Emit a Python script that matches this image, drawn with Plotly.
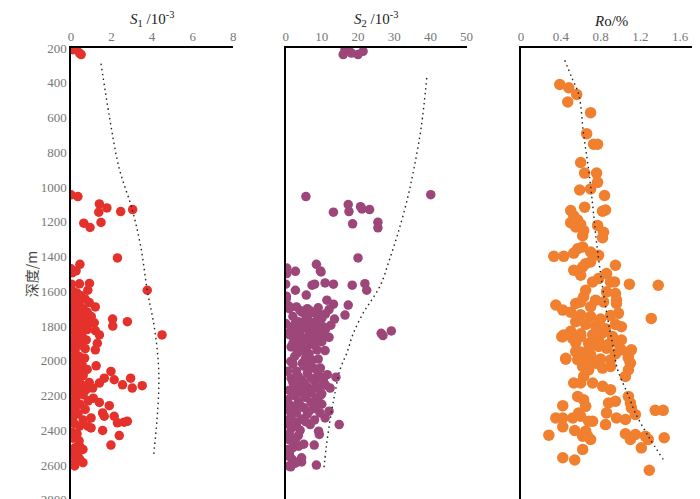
import plotly.graph_objects as go

# S1 (x, depth)
s1_val = [0.1, 0.26, 0.42, 0.5,
          0.0, 0.34, 1.4, 1.77, 1.37, 2.45, 3.04, 0.63, 0.94, 1.48, 2.29, 3.76, 4.49, 0.44, 0.0, 0.05, 0.25,
          0.02, 0.42, 0.91, 0.83,
          0.1, 0.3, 0.05, 0.5, 0.2, 0.7, 0.4, 0.05, 0.9, 0.3, 0.6, 1.2, 0.1, 0.8, 0.45, 0.2, 1.0, 0.65, 0.05,
          0.35, 0.9, 1.15, 0.15, 0.6, 0.4, 0.0, 0.8, 0.25, 0.55, 0.1, 1.4, 0.75, 0.3, 1.3, 0.5, 0.05, 0.2,
          1.2, 0.7, 2.05, 2.06, 2.78, 1.2,
          0.1, 0.4, 0.67, 0.05, 0.3, 0.55, 1.24, 0.15, 0.8, 0.45, 1.97, 0.1, 0.6, 2.94, 1.64, 0.3, 2.13, 0.05,
          0.9, 1.4, 0.5, 2.54, 3.51, 0.2, 1.07, 3.02, 0.75, 0.4, 0.05, 0.6, 0.25, 1.1, 0.85, 0.1, 1.4, 0.45,
          1.89, 0.2, 0.7, 0.05, 1.56, 0.35, 0.99, 1.64, 2.13, 0.1, 0.6, 2.62, 2.78, 2.29, 0.83, 0.42, 0.99,
          0.15, 1.56, 0.05, 0.3, 2.38, 0.1, 0.4, 1.97, 0.42, 0.2, 0.59, 0.05, 0.3, 0.34, 0.0, 0.59, 0.18, 0.45,
          0.1]
s1_dep = [210, 200, 229, 238,
          1045, 1055, 1097, 1120, 1145, 1141, 1130, 1208, 1233, 1204, 1408, 1594, 1851, 1445, 1471, 1494, 1483,
          1559, 1557, 1555, 1594,
          1600, 1610, 1630, 1625, 1650, 1645, 1670, 1680, 1665, 1695, 1700, 1690, 1715, 1720, 1735, 1750, 1745,
          1760, 1770, 1780, 1785, 1781, 1800, 1805, 1825, 1830, 1820, 1845, 1860, 1870, 1851, 1880, 1890, 1899,
          1910, 1920, 1940, 1937, 1930, 1760, 1800, 1775, 1826,
          1960, 1975, 1985, 2000, 2010, 2025, 2029, 2040, 2050, 2060, 2061, 2080, 2085, 2100, 2100, 2105, 2109,
          2120, 2125, 2128, 2135, 2138, 2143, 2150, 2157, 2157, 2166, 2175, 2185, 2195, 2210, 2215, 2230, 2235,
          2240, 2250, 2258, 2270, 2280, 2290, 2300, 2305, 2329, 2319, 2319, 2325, 2340, 2353, 2348, 2357, 2376,
          2376, 2386, 2360, 2401, 2410, 2420, 2430, 2445, 2460, 2485, 2491, 2500, 2510, 2525, 2540, 2548, 2571,
          2586, 2605, 2570, 2590]
s1_trend_val = [1.48, 1.9, 2.37, 3.02, 3.45, 3.76, 4.1, 4.3, 4.33, 4.24, 4.08]
s1_trend_dep = [290, 600, 890, 1130, 1350, 1594, 1800, 2000, 2150, 2340, 2540]

# S2 (x, depth)
s2_val = [15.9, 17.3, 18.2, 20.0, 21.4, 16.4,
          5.6, 40.1, 13.2, 17.3, 17.5, 20.7, 21.1, 23.2, 18.5, 25.5, 25.5, 20.0, 0.3, 0.3, 2.7, 8.5, 9.6, 9.8,
          0.0, 7.3, 8.0, 10.9, 13.2, 18.4, 21.9, 22.4, 2.7, 0.2, 0.2, 5.7, 0.9, 17.3, 11.4, 13.2, 16.4, 26.4,
          26.9, 29.2, 0.0, 0.0, 10.9, 1.4, 3.2,
          3.2, 3.2, 5.9, 8.7, 1.8, 4.6, 7.3, 7.7, 9.6, 6.4, 13.9, 0.5, 0.0, 12.0, 10.9, 14.8, 6.8, 9.1, 9.3,
          0.0, 0.9, 2.7, 3.6, 7.9, 0.5, 0.0, 1.8, 0.9, 4.4, 4.4, 8.5, 1.4,
          3, 6, 9, 12, 4.5, 8, 11, 2, 6, 10, 13.5, 3.5, 7, 9.5, 12.5, 1.5, 5, 8, 11, 3, 6.5, 9.5, 2, 5, 8, 12,
          3.5, 6.5, 10, 1.5, 4.5, 2.5, 5.5, 9, 3, 6, 9, 11.5, 1.5, 4.5, 8, 10.5, 2.5, 6, 9, 12.3, 1, 4, 7, 10,
          2.5, 5.5, 8.5, 3.5, 7, 10, 2, 5, 8, 3, 6, 1.5, 4.5, 8, 0.5, 3, 1.5, 4, 2, 5, 1, 3,
          1, 4, 7, 10, 5.5, 8.5, 2.5, 6, 10.5, 4, 7.5, 1, 4, 10.5, 7, 2, 5, 8, 3.5, 6.5, 2, 5, 8.5, 0.5, 3.5,
          7, 10, 2, 5, 11, 3.5, 7.5, 2, 5, 9.5, 1, 4, 8.5, 2, 6.5, 9.5, 0.5, 3, 5.5, 1, 3.5, 2, 1, 2.5]
s2_dep = [238, 200, 229, 238, 219, 210,
          1055, 1044, 1145, 1101, 1141, 1113, 1126, 1130, 1212, 1202, 1235, 1408, 1466, 1498, 1485, 1445, 1483,
          1489, 1559, 1565, 1559, 1552, 1559, 1565, 1556, 1594, 1594, 1628, 1641, 1622, 1685, 1679, 1651, 1674,
          1737, 1842, 1855, 1828, 1785, 1842, 1941, 2004, 1937,
          1909, 1956, 1918, 1937, 2004, 2014, 1995, 2042, 2042, 2033, 2094, 2224, 2281, 2290, 2329, 2367, 2367,
          2405, 2424, 2434, 2453, 2453, 2491, 2485, 2510, 2548, 2567, 2605, 2558, 2582, 2600, 2610,
          1690, 1700, 1695, 1705, 1720, 1725, 1730, 1745, 1750, 1755, 1760, 1775, 1780, 1790, 1795, 1805, 1810,
          1815, 1820, 1835, 1840, 1845, 1860, 1870, 1875, 1865, 1890, 1895, 1890, 1920, 1940, 1975, 1985, 1990,
          2060, 2070, 2075, 2080, 2100, 2110, 2115, 2120, 2140, 2150, 2155, 2157, 2170, 2180, 2185, 2190, 2200,
          2210, 2215, 2235, 2240, 2250, 2265, 2270, 2275, 2300, 2305, 2320, 2335, 2340, 2360, 2375, 2390, 2400,
          2470, 2480, 2530, 2585,
          1700, 1710, 1715, 1740, 1765, 1770, 1790, 1795, 1805, 1825, 1830, 1850, 1855, 1860, 1880, 1900, 1905,
          1910, 1925, 1960, 2020, 2030, 2050, 2060, 2090, 2100, 2100, 2125, 2130, 2140, 2160, 2165, 2190, 2195,
          2200, 2250, 2255, 2260, 2290, 2290, 2300, 2345, 2355, 2350, 2420, 2430, 2500, 2540, 2590]
s2_trend_val = [39.0, 37.5, 35.5, 33.5, 31.0, 28.5, 26.4, 23.8, 21.9, 18.7, 17.0, 15.0, 13.5, 12.3, 11.2, 10.5]
s2_trend_dep = [372, 650, 890, 1080, 1269, 1430, 1556, 1650, 1708, 1842, 1950, 2052, 2200, 2338, 2500, 2634]

# Ro (x, depth)
ro_val = [0.39, 0.48, 0.56, 0.47, 0.70, 0.66, 0.73, 0.77, 0.60, 0.64, 0.76,
          0.77, 0.70, 0.59, 0.84, 0.64, 0.85, 0.82, 0.50, 0.53, 0.57, 0.60, 0.63, 0.50, 0.55, 0.62, 0.77, 0.83,
          0.82, 0.57, 0.62, 0.53, 0.33, 0.43, 0.70, 0.78, 0.95, 0.65, 0.70, 0.62, 0.53, 0.60, 0.86, 0.72, 0.78,
          0.90, 0.94, 1.09, 1.38, 0.65, 0.63, 0.86, 0.95, 0.96, 0.35, 0.42, 0.55, 0.60, 0.70, 0.75, 0.83, 0.96,
          0.98, 1.31, 0.43, 0.41, 0.45, 1.01, 1.01, 1.11, 1.08,
          0.5, 0.6, 0.7, 0.8, 0.9, 0.55, 0.65, 0.75, 0.85, 0.95, 0.5, 0.6, 0.72, 0.82, 0.92, 0.55, 0.68, 0.78,
          0.88, 0.98, 0.6, 0.7, 0.95, 0.65, 0.8, 0.9,
          0.42, 0.52, 0.60, 0.45, 0.55, 0.57, 0.68, 0.78, 0.86, 0.62, 0.68, 0.63, 0.75, 0.82, 0.90, 1.01, 1.08,
          1.10, 1.08, 1.05, 0.53, 0.60, 0.72, 0.82, 0.90, 0.57, 0.63, 0.42, 0.88, 0.95, 1.08, 1.10, 1.11, 1.15,
          0.86, 0.96, 1.05, 0.85, 1.35, 1.43, 0.35, 0.42, 0.52, 0.60, 0.68, 0.72, 0.58, 0.65, 0.42, 0.28, 0.54,
          0.65, 0.67, 0.70, 0.62, 1.05, 1.15, 1.25, 1.28, 1.10, 1.21, 1.44, 0.62, 0.42, 0.54, 1.29]
ro_dep = [410, 429, 467, 511, 572, 693, 754, 754, 859, 920, 920,
          973, 1011, 1017, 1049, 1116, 1132, 1139, 1135, 1165, 1190, 1215, 1250, 1205, 1230, 1280, 1221, 1260,
          1292, 1355, 1345, 1380, 1399, 1399, 1374, 1393, 1450, 1441, 1431, 1460, 1479, 1508, 1498, 1546, 1527,
          1546, 1546, 1559, 1565, 1594, 1632, 1603, 1613, 1651, 1679, 1708, 1670, 1661, 1689, 1651, 1661, 1670,
          1727, 1756, 1851, 1861, 1985, 1804, 1880, 1937, 1985,
          1720, 1735, 1745, 1760, 1740, 1775, 1790, 1800, 1815, 1790, 1830, 1845, 1850, 1840, 1860, 1895, 1900,
          1885, 1905, 1900, 1950, 1965, 1960, 2000, 1990, 1995,
          1861, 1871, 1861, 1991, 1947, 1994, 1937, 1918, 1928, 2033, 2052, 2090, 2014, 2042, 2033, 1937, 1975,
          2014, 2052, 2090, 2128, 2128, 2128, 2147, 2166, 2205, 2224, 2258, 2243, 2233, 2205, 2243, 2271, 2309,
          2300, 2329, 2338, 2367, 2285, 2285, 2329, 2329, 2329, 2319, 2348, 2348, 2300, 2262, 2380, 2428, 2401,
          2405, 2434, 2453, 2434, 2420, 2424, 2434, 2453, 2453, 2501, 2443, 2510, 2558, 2571, 2630]
ro_trend_val = [0.44, 0.51, 0.58, 0.63, 0.68, 0.72, 0.75, 0.80, 0.88, 0.92, 0.97, 1.01, 1.08, 1.15, 1.28, 1.43]
ro_trend_dep = [270, 370, 467, 700, 900, 1100, 1269, 1498, 1785, 1900, 2050, 2109, 2200, 2300, 2434, 2567]

depth_ticks = [200, 400, 600, 800, 1000, 1200, 1400, 1600, 1800, 2000, 2200, 2400, 2600, 2800]

serif = "Liberation Serif"
grey = "#777777"

fig = go.Figure()

panels = [
    (s1_val, s1_dep, s1_trend_val, s1_trend_dep, "#e5312b", 9.5, "x", "y"),
    (s2_val, s2_dep, s2_trend_val, s2_trend_dep, "#9c4679", 9.5, "x2", "y2"),
    (ro_val, ro_dep, ro_trend_val, ro_trend_dep, "#f0802f", 11.5, "x3", "y3"),
]
for xv, dv, tx, td, col, sz, xa, ya in panels:
    fig.add_trace(go.Scatter(x=xv, y=dv, mode="markers", xaxis=xa, yaxis=ya,
                             marker=dict(color=col, size=sz, line=dict(width=0)), showlegend=False))
    fig.add_trace(go.Scatter(x=tx, y=td, mode="lines", xaxis=xa, yaxis=ya, line_shape="spline",
                             line=dict(color="#222", width=1.4, dash="1.5px,3.5px"), showlegend=False))

tickf = dict(family=serif, size=13, color=grey)
xbase = dict(side="top", showline=True, linecolor="black", linewidth=1.5, showgrid=False, zeroline=False,
             ticks="", tickfont=tickf)
ybase = dict(range=[2801, 200], showline=True, linecolor="black", linewidth=1.5, showgrid=False,
             zeroline=False, ticks="", tickvals=depth_ticks, ticklabeloverflow="allow")

fig.update_layout(
    width=700, height=499,
    margin=dict(l=63, r=0, t=40, b=5),
    font=dict(family=serif),
    plot_bgcolor="white", paper_bgcolor="white",
    xaxis=dict(xbase, domain=[0, 0.2575], range=[0, 8], tickvals=[0, 2, 4, 6, 8], anchor="y"),
    xaxis2=dict(xbase, domain=[0.3407, 0.6279], range=[0, 50], tickvals=[0, 10, 20, 30, 40, 50], anchor="y2"),
    xaxis3=dict(xbase, domain=[0.7143, 1.0], range=[0, 1.81], tickvals=[0, 0.4, 0.8, 1.2, 1.6],
                ticktext=["0", "0.4", "0.8", "1.2", "1.6"], anchor="y3"),
    yaxis=dict(ybase, anchor="x", tickfont=tickf),
    yaxis2=dict(ybase, anchor="x2", showticklabels=False),
    yaxis3=dict(ybase, anchor="x3", showticklabels=False),
)

titles = [("x", "<i>S</i><sub>1</sub> /10<sup>-3</sup>"),
          ("x2", "<i>S</i><sub>2</sub> /10<sup>-3</sup>"),
          ("x3", "<i>R</i>o/%")]
for xa, txt in titles:
    fig.add_annotation(text=txt, xref=xa + " domain", x=0.5, yref="paper", y=1, yanchor="bottom",
                       yshift=17, showarrow=False, font=dict(family=serif, size=15, color="#222"))

fig.add_annotation(text="深度/m", xref="paper", x=-0.082, yref="y", y=1500, textangle=-90,
                   showarrow=False, font=dict(family="Noto Sans CJK SC", size=14, color="#444"))

fig.write_html("out.html")
